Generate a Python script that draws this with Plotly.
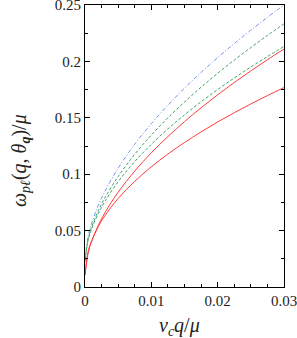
import plotly.graph_objects as go

q = [0, 0.0005, 0.001, 0.002, 0.003, 0.005, 0.0075, 0.01, 0.0125, 0.015,
     0.0175, 0.02, 0.0225, 0.025, 0.0275, 0.03]

blue = [0.024, 0.0459, 0.0565, 0.0723, 0.0848, 0.1054, 0.1266, 0.1448, 0.1612,
        0.1763, 0.1902, 0.2034, 0.2158, 0.2277, 0.2391, 0.2500]
green_upper = [0.024, 0.0435, 0.0531, 0.0675, 0.0791, 0.0980, 0.1177, 0.1347,
               0.1500, 0.1640, 0.1771, 0.1895, 0.2012, 0.2123, 0.2230, 0.2333]
green_lower = [0.022, 0.0421, 0.0515, 0.0651, 0.0759, 0.0934, 0.1112, 0.1265,
               0.1402, 0.1526, 0.1642, 0.1750, 0.1853, 0.1950, 0.2043, 0.2133]
red_upper = [0.0106, 0.0308, 0.0404, 0.0546, 0.0658, 0.0841, 0.1028, 0.1190,
             0.1334, 0.1466, 0.1589, 0.1704, 0.1813, 0.1916, 0.2015, 0.2110]
red_lower = [0.0106, 0.0321, 0.0409, 0.0535, 0.0632, 0.0785, 0.0937, 0.1066,
             0.1179, 0.1281, 0.1375, 0.1463, 0.1545, 0.1623, 0.1697, 0.1768]

x_ticks = [0, 0.01, 0.02, 0.03]
x_ticktext = ["0", "0.01", "0.02", "0.03"]
y_ticks = [0, 0.05, 0.1, 0.15, 0.2, 0.25]
y_ticktext = ["0", "0.05", "0.1", "0.15", "0.2", "0.25"]

series = [
    (blue, "#7393f2", "4px,2px,1px,2px"),
    (green_upper, "#45a068", "3px,2px"),
    (green_lower, "#45a068", "3px,2px"),
    (red_upper, "#ff3c3c", "solid"),
    (red_lower, "#ff3c3c", "solid"),
]

fig = go.Figure()
for ys, col, dash in series:
    fig.add_trace(go.Scatter(x=q, y=ys, mode="lines", line_shape="spline",
                             line=dict(color=col, width=1, dash=dash),
                             showlegend=False, hoverinfo="skip"))

font_family = "Liberation Serif, DejaVu Serif, serif"
tickfont = dict(family=font_family, size=15, color="#222222")
axis_common = dict(showline=True, linecolor="black", linewidth=1.2, mirror="ticks",
                   ticks="inside", ticklen=5, tickwidth=1, tickcolor="black",
                   showgrid=False, zeroline=False, automargin=False,
                   ticklabeloverflow="allow", tickfont=tickfont)

fig.update_xaxes(range=[0, 0.0300001], tickvals=x_ticks, ticktext=x_ticktext,
                 minor=dict(dtick=0.0025, ticks="inside", ticklen=3, tickcolor="black", showgrid=False),
                 **axis_common)
fig.update_yaxes(range=[0, 0.2500001], tickvals=y_ticks, ticktext=y_ticktext,
                 minor=dict(dtick=0.025, ticks="inside", ticklen=3, tickcolor="black", showgrid=False),
                 **axis_common)

title_font = dict(family=font_family, size=20, color="#222222")
fig.add_annotation(text="<i>v</i><sub><i>c</i></sub><i>q</i>/<i>μ</i>",
                   xref="paper", yref="paper", x=0.477, y=-0.14, xanchor="center", yanchor="middle",
                   showarrow=False, font=title_font)
fig.add_annotation(text="<i>ω</i><sub><i>pℓ</i></sub>(<i>q</i>, <i>θ</i><sub><b><i>q</i></b></sub>)/<i>μ</i>",
                   xref="paper", yref="paper", x=-0.327, y=0.45, xanchor="center", yanchor="middle",
                   textangle=-90, showarrow=False, font=title_font)

fig.update_layout(width=297, height=338, margin=dict(l=85, r=13, t=5, b=51),
                  plot_bgcolor="white", paper_bgcolor="white",
                  font=dict(family=font_family, color="#222222"))

fig.write_html("out.html", config={"displayModeBar": False},
               post_script="document.body.style.margin='0px';")
